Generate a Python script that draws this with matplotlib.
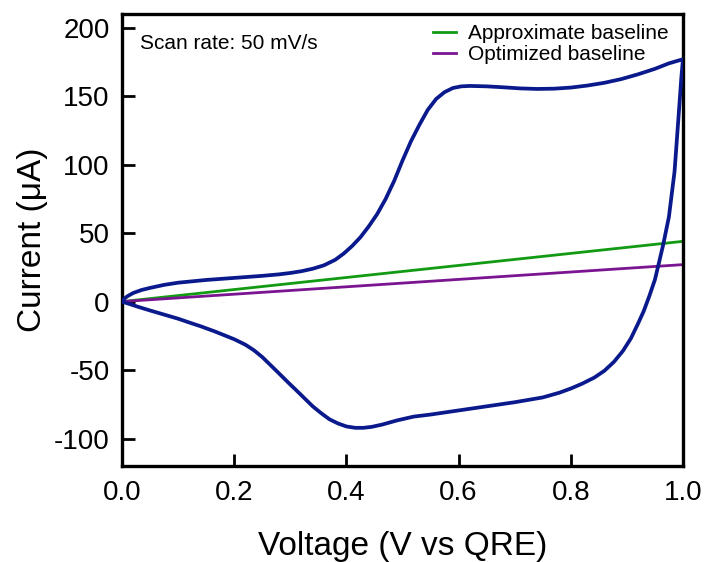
import matplotlib.pyplot as plt

# Cyclic voltammogram, forward (anodic) scan
v_fwd = [0.0, 0.005, 0.01, 0.02, 0.035, 0.05, 0.075, 0.1, 0.15, 0.2, 0.25,
         0.28, 0.3, 0.32, 0.34, 0.36, 0.38, 0.395, 0.41, 0.425, 0.44, 0.455,
         0.47, 0.485, 0.50, 0.515, 0.53, 0.545, 0.56, 0.575, 0.59, 0.605,
         0.62, 0.65, 0.68, 0.71, 0.74, 0.77, 0.80, 0.83, 0.86, 0.89, 0.92,
         0.95, 0.975, 1.0]
i_fwd = [0, 2.5, 4, 6.3, 8.5, 10, 12.2, 13.8, 15.8, 17.3, 18.8,
         19.9, 20.9, 22.2, 24, 26.5, 30.5, 35, 40.5, 47, 55, 64,
         75, 88, 103, 117, 129, 140, 148, 153, 156, 157.2,
         157.5, 157.2, 156.5, 155.7, 155.3, 155.5, 156.3, 157.8, 159.8, 162.5, 166,
         170, 174, 177]

# reverse (cathodic) scan
v_rev = [1.0, 0.997, 0.993, 0.985, 0.975, 0.965, 0.957, 0.95, 0.94, 0.93,
         0.92, 0.907, 0.893, 0.877, 0.86, 0.842, 0.82, 0.80, 0.78, 0.75,
         0.70, 0.65, 0.60, 0.55, 0.52, 0.49, 0.464, 0.445, 0.43, 0.416, 0.40,
         0.385, 0.37, 0.355, 0.34, 0.325, 0.31, 0.297, 0.28, 0.265, 0.25,
         0.235, 0.22, 0.2, 0.18, 0.166, 0.14, 0.12, 0.1, 0.075, 0.05, 0.03,
         0.015, 0.0]
i_rev = [177, 163, 140, 95, 62, 42, 28, 16, 4, -7,
         -16, -27, -36, -44, -50.5, -55.5, -60, -63.5, -66.5, -70,
         -73.5, -76.5, -79.5, -82.5, -84, -86.8, -89.8, -91.5, -92.2, -92.2, -91.2,
         -89, -86, -81.5, -76.5, -70.5, -64.5, -59.4, -52.5, -46.5, -40.5,
         -35.5, -31.5, -27.5, -24.2, -21.9, -18, -15.3, -12.5, -9.5, -6.5, -4,
         -2, 0]

# baselines
v_base = [0.0, 1.0]
i_approx = [0, 44]
i_optim = [0, 27]

plt.rcParams['font.family'] = ['Liberation Sans', 'DejaVu Sans']
plt.rcParams['axes.unicode_minus'] = False

fig = plt.figure(figsize=(7.07, 5.62), dpi=100)
ax = fig.add_axes([0.1726, 0.171, 0.7934, 0.804])

ax.plot(v_fwd + v_rev[1:], i_fwd + i_rev[1:], color='#0a1a8c', lw=2.7, zorder=3)
ax.plot(v_base, i_approx, color='#139a13', lw=2.0, label='Approximate baseline')
ax.plot(v_base, i_optim, color='#7a1490', lw=2.0, label='Optimized baseline')

ax.set_xlim(0, 1)
ax.set_ylim(-120, 210)
ax.set_xticks([0.0, 0.2, 0.4, 0.6, 0.8, 1.0])
ax.set_yticks([-100, -50, 0, 50, 100, 150, 200])

for s in ax.spines.values():
    s.set_linewidth(2.4)
ax.tick_params(direction='in', length=9, width=2.0, labelsize=20)
ax.tick_params(axis='y', pad=9)
ax.tick_params(axis='x', pad=10)

ax.set_xlabel('Voltage (V vs QRE)', fontsize=24, labelpad=18)
ax.set_ylabel('Current (μA)', fontsize=24, labelpad=4)

ax.text(0.032, 0.955, 'Scan rate: 50 mV/s', transform=ax.transAxes,
        fontsize=15, va='top', ha='left')

ax.legend(loc='upper right', frameon=False, fontsize=15, handlelength=1.1,
          handletextpad=0.6, labelspacing=0.1, borderaxespad=0.2,
          bbox_to_anchor=(0.997, 1.006))

fig.savefig('out.png', dpi=100)
